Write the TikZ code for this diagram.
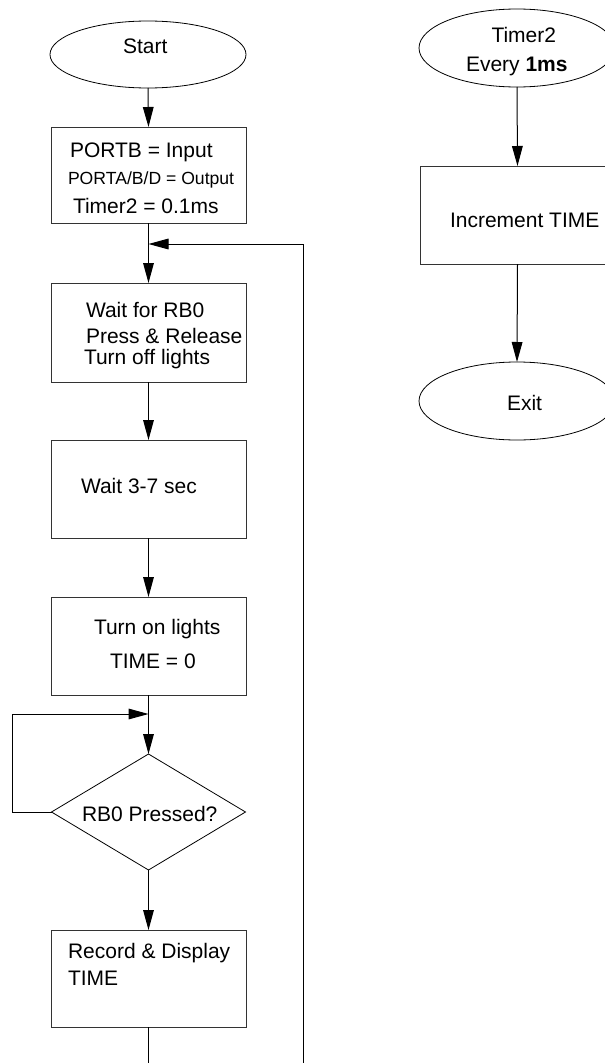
\documentclass[tikz,border=0pt]{standalone}
\usepackage{fontspec}
\setmainfont{Liberation Sans}
\usetikzlibrary{shapes.geometric,arrows.meta}
\begin{document}
\begin{tikzpicture}[x=0.75pt,y=-0.75pt,
  every node/.style={inner sep=0pt, outer sep=0pt},
  procbox/.style={draw=black!80, line width=0.75pt, rectangle, minimum width=146.25pt},
  term/.style={draw=black, line width=0.6pt, ellipse, minimum width=147pt},
  decis/.style={draw=black, line width=0.6pt, diamond, minimum width=145.5pt, minimum height=87pt},
  lbl/.style={anchor=base west, font=\fontsize{15.75}{19}\selectfont},
  slbl/.style={anchor=base west, font=\fontsize{13.2}{16}\selectfont},
  flow/.style={draw=black, line width=0.75pt, -{Triangle[length=15pt,width=8pt]}},
  line/.style={draw=black, line width=0.75pt}
]
\useasboundingbox (0,0) rectangle (605,1063);
\fill[white] (0,0) rectangle (605,1063);

% left column shapes
\node[term, minimum height=50.25pt] (start) at (148,54.5) {};
\node[procbox, minimum height=72pt] (init) at (148.5,175) {};
\node[procbox, minimum height=74.25pt] (waitrb) at (148.5,332.5) {};
\node[procbox, minimum height=73.5pt] (waitsec) at (148.5,489) {};
\node[procbox, minimum height=73.5pt] (lights) at (148.5,646) {};
\node[decis] (pressed) at (148.5,812) {};
\node[procbox, minimum height=72.75pt] (record) at (148.5,978.5) {};

% right column shapes
\node[term, minimum height=58.5pt] (timer) at (517,48) {};
\node[procbox, minimum height=73.5pt] (incr) at (517.5,215) {};
\node[term, minimum height=58.5pt] (exit) at (517,401) {};

% texts
\node[lbl] (tstart) at (123,53.5) {Start};
\node[lbl] (t1a) at (70,157) {PORTB = Input};
\node[slbl] (t1b) at (68,184) {PORTA/B/D = Output};
\node[lbl] (t1c) at (73,213) {Timer2 = 0.1ms};
\node[lbl] (t2a) at (86,317) {Wait for RB0};
\node[lbl] (t2b) at (86,343) {Press \& Release};
\node[lbl] (t2c) at (84,364) {Turn off lights};
\node[lbl] (t3) at (81,493) {Wait 3-7 sec};
\node[lbl] (t4a) at (94,634) {Turn on lights};
\node[lbl] (t4b) at (110,668) {TIME = 0};
\node[lbl] (t5) at (82,821) {RB0 Pressed?};
\node[lbl] (t6a) at (68,958) {Record \& Display};
\node[lbl] (t6b) at (68,985) {TIME};
\node[lbl] (tr1) at (491.5,43) {Timer2};
\node[lbl] (tr2) at (466,72) {Every \textbf{1ms}};
\node[lbl] (tr3) at (450,227) {Increment TIME};
\node[lbl] (tr4) at (507,410) {Exit};

% coordinates for loops
\coordinate (join1) at (148.5,244);
\coordinate (join2) at (148.5,714);
\coordinate (loopL) at (12,812);
\coordinate (loopLt) at (12,714);
\coordinate (fbBot) at (148.5,1090);
\coordinate (fbBotR) at (303,1090);
\coordinate (fbTopR) at (303,244);

% left connectors
\draw[flow] (start.south) -- (init.north);
\draw[flow] (init.south) -- (waitrb.north);
\draw[flow] (waitrb.south) -- (waitsec.north);
\draw[flow] (waitsec.south) -- (lights.north);
\draw[flow] (lights.south) -- (pressed.north);
\draw[flow] (pressed.south) -- (record.north);
\draw[flow] (pressed.west) -- (loopL) -- (loopLt) -- (join2);
\draw[flow] (record.south) -- (fbBot) -- (fbBotR) -- (fbTopR) -- (join1);

% right connectors
\draw[flow] (timer.south) -- (incr.north);
\draw[flow] (incr.south) -- (exit.north);
\end{tikzpicture}
\end{document}
